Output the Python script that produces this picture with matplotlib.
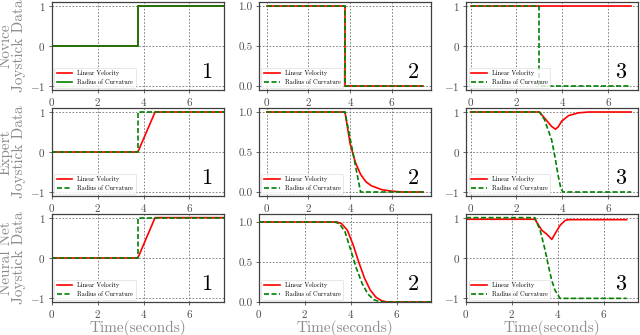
import matplotlib.pyplot as plt

plt.rcParams['font.family'] = 'serif'
plt.rcParams['font.serif'] = ['cmr10']
plt.rcParams['mathtext.fontset'] = 'cm'
plt.rcParams['axes.formatter.use_mathtext'] = True

row_names = ['Novice\nJoystick Data', 'Expert\nJoystick Data', 'Neural Net\nJoystick Data']
panel_ids = ['1', '2', '3']

# Novice
nov1_t = [0, 3.75, 3.75, 7.5]
nov1_v = [0, 0, 1, 1]
nov1_r = [0, 0, 1, 1]
nov2_t = [0, 3.75, 3.75, 7.5]
nov2_v = [1, 1, 0, 0]
nov2_r = [1, 1, 0, 0]
nov3_vt = [0, 7.0]
nov3_v = [1, 1]
nov3_rt = [0, 3.0, 3.0, 7.0]
nov3_r = [1, 1, -1, -1]

# Expert
exp1_vt = [0, 3.75, 4.5, 7.5]
exp1_v = [0, 0, 1, 1]
exp1_rt = [0, 3.75, 3.75, 7.5]
exp1_r = [0, 0, 1, 1]
exp2_vt = [0, 3.75, 4.0, 4.25, 4.5, 4.75, 5.0, 5.5, 6.0, 6.5, 7.5]
exp2_v = [1, 1, 0.6, 0.37, 0.22, 0.13, 0.08, 0.03, 0.01, 0.0, 0.0]
exp2_rt = [0, 3.75, 4.5, 7.5]
exp2_r = [1, 1, 0, 0]
exp3_vt = [0, 3.0, 3.22, 3.53, 3.7, 3.82, 3.97, 4.27, 4.7, 5.15, 7.0]
exp3_v = [1, 1, 0.85, 0.64, 0.57, 0.63, 0.77, 0.91, 0.98, 1.0, 1.0]
exp3_rt = [0, 3.0, 3.22, 3.53, 3.67, 3.82, 3.94, 4.04, 7.0]
exp3_r = [1, 1, 0.81, 0.31, -0.1, -0.6, -0.93, -1, -1]

# Neural net
net1_vt = [0, 3.75, 4.5, 7.5]
net1_v = [0, 0, 1, 1]
net1_rt = [0, 3.75, 3.75, 7.5]
net1_r = [0, 0, 1, 1]
net2_vt = [0, 3.4, 3.6, 3.85, 4.1, 4.35, 4.6, 4.85, 5.1, 5.35, 5.6, 7.5]
net2_v = [1, 1, 0.98, 0.9, 0.72, 0.5, 0.3, 0.15, 0.06, 0.015, 0, 0]
net2_rt = [0, 3.3, 3.5, 3.75, 4.0, 4.25, 4.5, 4.75, 5.0, 5.25, 5.5, 7.5]
net2_r = [1, 1, 0.98, 0.88, 0.65, 0.42, 0.23, 0.1, 0.03, 0.005, 0, 0]
net3_vt = [0, 3.0, 3.3, 3.52, 3.74, 3.88, 4.1, 4.32, 4.46, 7.0]
net3_v = [0.96, 0.96, 0.69, 0.59, 0.46, 0.6, 0.81, 0.93, 0.95, 0.95]
net3_rt = [0, 3.0, 3.23, 3.45, 3.6, 3.74, 3.88, 4.1, 7.0]
net3_r = [1, 1, 0.69, 0.19, -0.22, -0.56, -0.8, -1, -1]

panels = [
    [(nov1_t, nov1_v, nov1_t, nov1_r), (nov2_t, nov2_v, nov2_t, nov2_r), (nov3_vt, nov3_v, nov3_rt, nov3_r)],
    [(exp1_vt, exp1_v, exp1_rt, exp1_r), (exp2_vt, exp2_v, exp2_rt, exp2_r), (exp3_vt, exp3_v, exp3_rt, exp3_r)],
    [(net1_vt, net1_v, net1_rt, net1_r), (net2_vt, net2_v, net2_rt, net2_r), (net3_vt, net3_v, net3_rt, net3_r)],
]

xlims = [
    [(0, 7.5), (-0.375, 7.875), (-0.2, 7.3)],
    [(0, 7.5), (-0.375, 7.875), (-0.2, 7.3)],
    [(0, 7.5), (0, 7.5), (0, 7.5)],
]
ylims = [
    [(-1.1, 1.1), (-0.05, 1.05), (-1.1, 1.1)],
    [(-1.1, 1.1), (-0.05, 1.05), (-1.1, 1.1)],
    [(-1.09, 1.09), (0, 1.1), (-1.09, 1.09)],
]

fig, axes = plt.subplots(3, 3, figsize=(6.4, 3.35), dpi=100)
fig.subplots_adjust(left=0.081, right=0.997, top=0.994, bottom=0.0985,
                    wspace=0.2035, hspace=0.2045)

for i in range(3):
    for j in range(3):
        ax = axes[i][j]
        vt, v, rt, r = panels[i][j]
        ax.plot(vt, v, color='red', lw=1.2, label='Linear Velocity')
        if i == 0 and j == 0:
            ax.plot(rt, r, color='green', lw=1.2, label='Radius of Curvature')
        else:
            ax.plot(rt, r, color='green', lw=1.2, ls=(0, (3, 1.5)),
                    label='Radius of Curvature')
        ax.set_xlim(*xlims[i][j])
        ax.set_ylim(*ylims[i][j])
        ax.set_xticks([0, 2, 4, 6])
        if j == 1:
            ax.set_yticks([0.0, 0.5, 1.0])
            ax.set_yticklabels(['0.0', '0.5', '1.0'])
        else:
            ax.set_yticks([-1, 0, 1])
        ax.grid(True, color='0.45', ls=(0, (2, 2)), lw=0.6)
        ax.tick_params(labelsize=8, labelcolor='0.3', color='0.3',
                       length=2.5, width=0.6, pad=2)
        for s in ax.spines.values():
            s.set_color('0.25')
            s.set_linewidth(0.9)
        leg = ax.legend(loc='lower left', fontsize=4.5, borderaxespad=0.4,
                        handlelength=2.5, framealpha=0.8)
        leg.get_frame().set_linewidth(0.4)
        ax.text(0.93, 0.09, panel_ids[j], transform=ax.transAxes,
                ha='right', va='bottom', fontsize=16)
        if j == 0:
            ax.set_ylabel(row_names[i], fontsize=11, color='0.55',
                          linespacing=0.95, labelpad=3)
        if i == 2:
            ax.set_xlabel('Time(seconds)', fontsize=11, color='0.55',
                          labelpad=0)

fig.savefig('out.png', dpi=100)
